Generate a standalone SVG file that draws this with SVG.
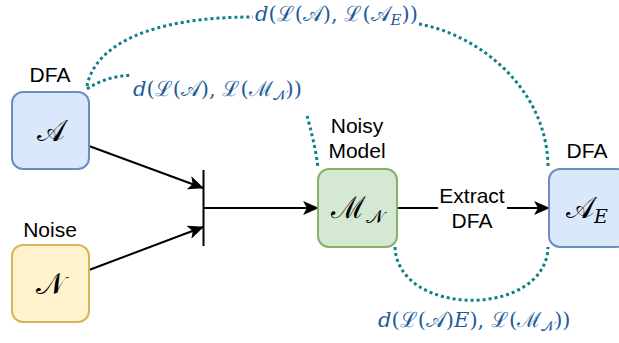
<svg xmlns="http://www.w3.org/2000/svg" width="619" height="343" viewBox="0 0 619 343">
<style>
.lbl{font-family:"Liberation Sans",Arial,sans-serif;font-size:21px;fill:#000;text-anchor:middle}
.math{font-family:"DejaVu Serif","Liberation Serif",serif;fill:#1d5c99;font-size:21px}
.mbox{font-family:"DejaVu Serif","Liberation Serif",serif;fill:#000;font-size:30px;text-anchor:middle}
.it{font-style:italic}
.dot{fill:none;stroke:#0e8088;stroke-width:3;stroke-dasharray:3 3}
.arr{fill:none;stroke:#000;stroke-width:2;marker-end:url(#ah)}
</style>
<defs>
<marker id="ah" viewBox="0 0 16 14" refX="15" refY="7" markerWidth="16" markerHeight="14" markerUnits="userSpaceOnUse" orient="auto">
<path d="M0,0 L16,7 L0,14 L4,7 z" fill="#000"/>
</marker>
</defs>
<g id="connectors">
<path class="arr" d="M89 146 L203 188"/>
<path class="arr" d="M89 270 L203 227"/>
<line x1="203.5" y1="170" x2="203.5" y2="246" stroke="#000" stroke-width="2"/>
<path class="arr" d="M204 208 L318 208"/>
<path class="arr" d="M397 208 H438 M507 208 H549"/>
<path class="dot" d="M87 86 C95 45,150 17,253 17"/>
<path class="dot" d="M419 24 C480 35,548 90,548 168"/>
<path class="dot" d="M87 89 C100 80,115 76,132 75"/>
<path class="dot" d="M307 116 C311 130,316 150,318 168"/>
<path class="dot" d="M395 247 C398 318,546 318,548 247"/>
</g>
<g id="labels">
<text class="math" x="255" y="21"><tspan class="it">d</tspan>(ℒ(𝒜), ℒ(𝒜<tspan class="it" font-size="15" dy="4">E</tspan><tspan dy="-4">))</tspan></text>
<text class="math" x="133" y="96"><tspan class="it">d</tspan>(ℒ(𝒜), ℒ(ℳ<tspan font-size="14" dy="4">𝒩</tspan><tspan dy="-4">))</tspan></text>
<text class="math" x="378" y="327"><tspan class="it">d</tspan>(ℒ(𝒜)<tspan class="it">E</tspan>), ℒ(ℳ<tspan font-size="14" dy="4">𝒩</tspan><tspan dy="-4">))</tspan></text>
<text class="lbl" x="472" y="203">Extract</text>
<text class="lbl" x="472" y="228">DFA</text>
</g>
<g id="nodeA">
<text class="lbl" x="50" y="82">DFA</text>
<rect x="12" y="92" width="77" height="77" rx="11" fill="#dae8fc" stroke="#6c8ebf" stroke-width="2"/>
<text class="mbox" x="50.5" y="141">𝒜</text>
</g>
<g id="nodeN">
<text class="lbl" x="50" y="237">Noise</text>
<rect x="12" y="245" width="77" height="77" rx="11" fill="#fff2cc" stroke="#d6b656" stroke-width="2"/>
<text class="mbox" x="50.5" y="294">𝒩</text>
</g>
<g id="nodeM">
<text class="lbl" x="357" y="133">Noisy</text>
<text class="lbl" x="357" y="158">Model</text>
<rect x="318" y="169" width="79" height="78" rx="11" fill="#d5e8d4" stroke="#82b366" stroke-width="2"/>
<text class="mbox" x="357" y="218">ℳ<tspan font-size="19" dy="5">𝒩</tspan></text>
</g>
<g id="nodeAE">
<text class="lbl" x="587" y="158">DFA</text>
<rect x="549" y="169" width="79" height="78" rx="11" fill="#dae8fc" stroke="#6c8ebf" stroke-width="2"/>
<text class="mbox" x="587" y="218">𝒜<tspan class="it" font-size="19" dy="5">E</tspan></text>
</g>
</svg>
